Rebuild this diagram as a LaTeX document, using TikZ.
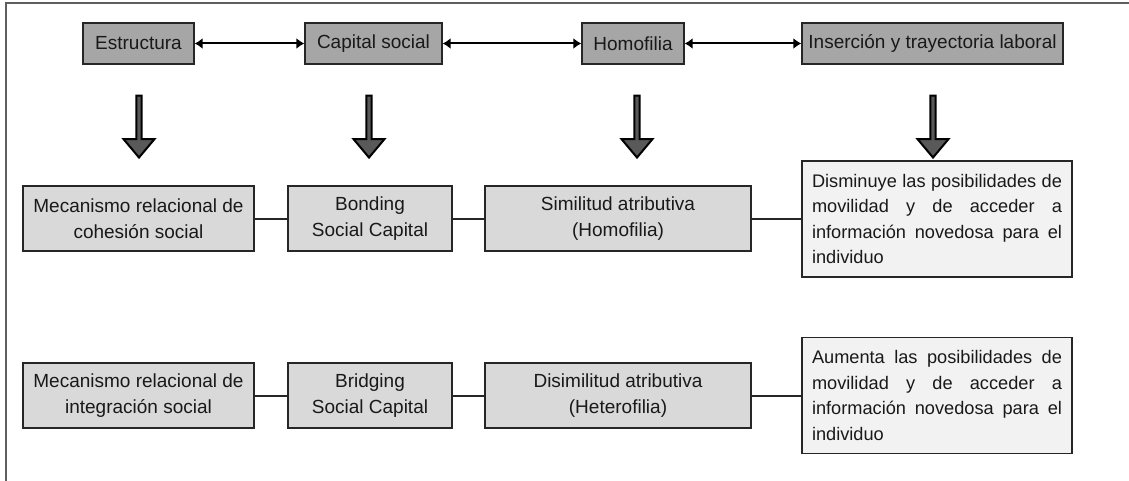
\documentclass[tikz,border=0pt]{standalone}
\usepackage{fontspec}
\setmainfont{Liberation Sans}
\usetikzlibrary{arrows.meta,shapes.arrows}
\definecolor{topfill}{HTML}{A6A6A6}
\definecolor{midfill}{HTML}{D9D9D9}
\definecolor{lightfill}{HTML}{F2F2F2}
\definecolor{blockfill}{HTML}{595959}
\definecolor{framecol}{HTML}{5F5F5F}
\begin{document}
\begin{tikzpicture}[x=1pt,y=-1pt,
  every node/.style={font=\fontsize{19}{25.5}\selectfont, text=black!90},
  box/.style={draw=black!85, line width=1.3pt, inner sep=0pt, align=center, minimum height=#1},
  topbox/.style={box=41, fill=topfill},
  midbox/.style={box=65, fill=midfill},
  textbox/.style={draw=black!85, line width=1.3pt, fill=lightfill, inner xsep=10pt, inner ysep=0pt,
    font=\fontsize{18.2}{25.5}\selectfont,
    text width=250pt, align=justify, minimum height=116},
  link/.style={line width=2pt, black!85},
  biarrow/.style={line width=2pt, black, {Latex[length=8pt,width=11pt]}-{Latex[length=8pt,width=11pt]}},
  blockarrow/.style={draw=black, line width=2pt, fill=blockfill, single arrow, shape border rotate=270,
    minimum height=62pt, minimum width=31pt, single arrow head extend=5pt, single arrow tip angle=80,
    inner sep=0pt}
]
\useasboundingbox (0,0) rectangle (1129,481);

% partial frame around the figure
\draw[framecol, line width=1.5pt] (6,481) -- (6,3) -- (1129,3);

% top row of concepts
\node[topbox, minimum width=111] (est) at (138.5,43.5) {Estructura};
\node[topbox, minimum width=137] (cap) at (373.5,43.5) {Capital social};
\node[topbox, minimum width=102] (hom) at (633,43.5) {Homofilia};
\node[topbox, minimum width=261] (ins) at (932.5,43.5) {Inserción y trayectoria laboral};

\draw[biarrow] (est.east) -- (cap.west);
\draw[biarrow] (cap.east) -- (hom.west);
\draw[biarrow] (hom.east) -- (ins.west);

% downward block arrows
\node[blockarrow] (d1) at (139,125) {};
\node[blockarrow] (d2) at (369,125) {};
\node[blockarrow] (d3) at (637,125) {};
\node[blockarrow] (d4) at (933,125) {};

% bonding row
\node[midbox, minimum width=231] (mecA) at (138.5,218.5) {Mecanismo relacional de\\cohesión social};
\node[midbox, minimum width=164] (bond) at (370,218.5) {Bonding\\Social Capital};
\node[midbox, minimum width=266] (simi) at (618,218.5) {Similitud atributiva\\(Homofilia)};
\node[textbox] (dism) at (937,219) {Disminuye las posibilidades de\linebreak movilidad y de acceder a\linebreak información novedosa para el\linebreak individuo};

\draw[link] (mecA.east) -- (bond.west);
\draw[link] (bond.east) -- (simi.west);
\draw[link] (simi.east) -- (simi.east -| dism.west);

% bridging row
\node[midbox, minimum width=231] (mecB) at (138.5,395.5) {Mecanismo relacional de\\integración social};
\node[midbox, minimum width=164] (brid) at (370,395.5) {Bridging\\Social Capital};
\node[midbox, minimum width=266] (dsim) at (618,395.5) {Disimilitud atributiva\\(Heterofilia)};
\node[textbox] (aume) at (937,395.5) {Aumenta las posibilidades de\linebreak movilidad y de acceder a\linebreak información novedosa para el\linebreak individuo};

\draw[link] (mecB.east) -- (brid.west);
\draw[link] (brid.east) -- (dsim.west);
\draw[link] (dsim.east) -- (dsim.east -| aume.west);
\end{tikzpicture}
\end{document}
